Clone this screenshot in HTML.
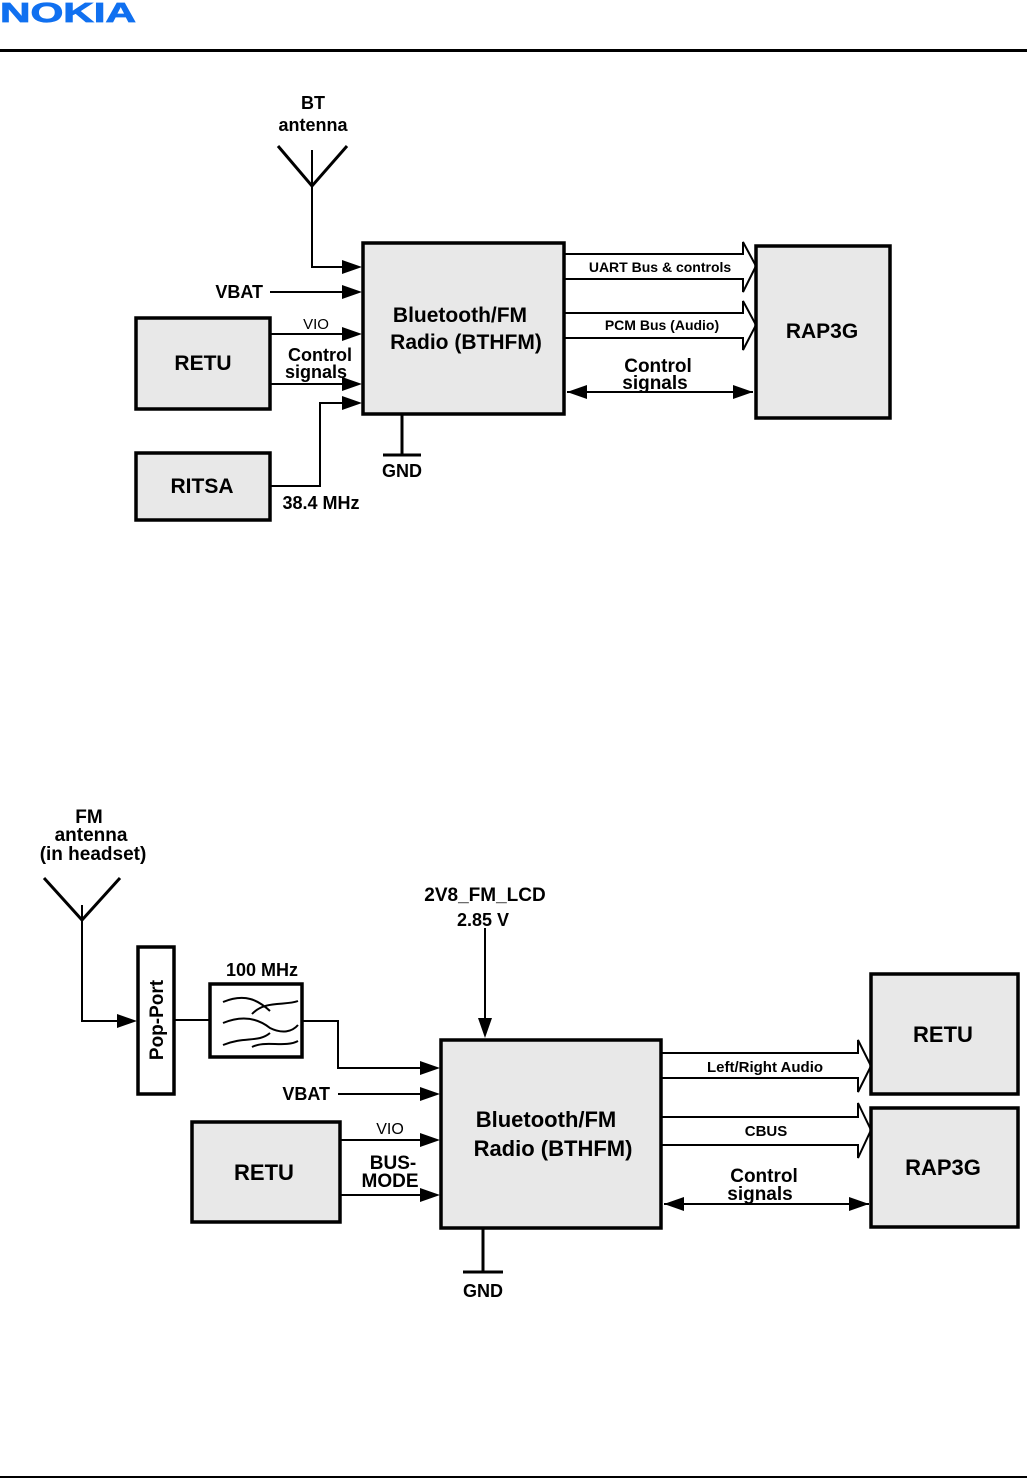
<!DOCTYPE html>
<html><head><meta charset="utf-8"><style>
html,body{margin:0;padding:0;background:#fff;}
svg{display:block}
text{font-family:"Liberation Sans",Arial,sans-serif;font-weight:bold;fill:#000;}
</style></head><body>
<svg width="1027" height="1479" viewBox="0 0 1027 1479" xmlns="http://www.w3.org/2000/svg">
<defs>
<marker id="ar" viewBox="0 0 20 14" refX="20" refY="7" markerWidth="20" markerHeight="14" orient="auto-start-reverse" markerUnits="userSpaceOnUse">
<path d="M0,0 L20,7 L0,14 z" fill="#000"/></marker>
</defs>
<text x="0" y="22" font-size="28" style="fill:#1070f0;stroke:#1070f0;stroke-width:0.8" textLength="136" lengthAdjust="spacingAndGlyphs">NOKIA</text>
<rect x="0" y="49" width="1027" height="3" fill="#000"/>
<rect x="0" y="1476" width="1027" height="2" fill="#000"/>

<g stroke="#000" stroke-width="2" fill="none">
<polyline points="278,146 312,186 347,146" stroke-width="3"/>
<polyline points="312,150 312,267 342,267"/>
<line x1="270" y1="292" x2="342" y2="292"/>
<line x1="270" y1="334" x2="342" y2="334"/>
<line x1="270" y1="384" x2="342" y2="384"/>
<polyline points="270,486 320,486 320,403 342,403"/>
<line x1="402" y1="414" x2="402" y2="454" stroke-width="3"/>
<line x1="383" y1="455" x2="421" y2="455" stroke-width="3"/>
<polyline points="564,254 743,254 743,242 756,266 743,292 743,279 564,279"/>
<polyline points="564,313 743,313 743,301 756,325 743,350 743,338 564,338"/>
<line x1="567" y1="392" x2="753" y2="392" marker-start="url(#ar)" marker-end="url(#ar)"/>

<polyline points="44,878 82,920 120,878" stroke-width="3"/>
<polyline points="82,905 82,1021 118,1021"/>
<line x1="174" y1="1020" x2="210" y2="1020"/>
<polyline points="302,1021 338,1021 338,1068 420,1068"/>
<line x1="338" y1="1094" x2="420" y2="1094"/>
<line x1="340" y1="1140" x2="420" y2="1140"/>
<line x1="340" y1="1195" x2="420" y2="1195"/>
<line x1="485" y1="928" x2="485" y2="1018"/>
<line x1="483" y1="1228" x2="483" y2="1272" stroke-width="3"/>
<line x1="463" y1="1272" x2="503" y2="1272" stroke-width="3"/>
<polyline points="661,1053 858,1053 858,1040 871,1066 858,1092 858,1078 661,1078"/>
<polyline points="661,1117 858,1117 858,1103 871,1130 858,1158 858,1145 661,1145"/>
<line x1="664" y1="1204" x2="869" y2="1204" marker-start="url(#ar)" marker-end="url(#ar)"/>
<path d="M223,1002 C245,993 258,1000 270,1011 M252,1014 C265,1000 285,1006 298,1001" />
<path d="M223,1023 C245,1014 260,1020 270,1028 C282,1034 292,1032 298,1025" />
<path d="M223,1045 C245,1036 258,1043 270,1033 M252,1047 C265,1040 285,1048 298,1041" />
</g>
<g fill="#000">
<path d="M342,260 L362,267 L342,274z"/>
<path d="M342,285 L362,292 L342,299z"/>
<path d="M342,327 L362,334 L342,341z"/>
<path d="M342,377 L362,384 L342,391z"/>
<path d="M342,396 L362,403 L342,410z"/>
<path d="M117,1014 L137,1021 L117,1028z"/>
<path d="M420,1061 L440,1068 L420,1075z"/>
<path d="M420,1087 L440,1094 L420,1101z"/>
<path d="M420,1133 L440,1140 L420,1147z"/>
<path d="M420,1188 L440,1195 L420,1202z"/>
<path d="M478,1018 L485,1038 L492,1018z"/>
</g>
<g stroke="#000" stroke-width="3.5">
<rect x="363" y="243" width="201" height="171" fill="#e8e8e8"/>
<rect x="136" y="318" width="134" height="91" fill="#e8e8e8"/>
<rect x="136" y="453" width="134" height="67" fill="#e8e8e8"/>
<rect x="756" y="246" width="134" height="172" fill="#e8e8e8"/>
<rect x="441" y="1040" width="220" height="188" fill="#e8e8e8"/>
<rect x="192" y="1122" width="148" height="100" fill="#e8e8e8"/>
<rect x="871" y="974" width="147" height="120" fill="#e8e8e8"/>
<rect x="871" y="1108" width="147" height="119" fill="#e8e8e8"/>
<rect x="138" y="947" width="36" height="147" fill="#fff"/>
<rect x="210" y="984" width="92" height="73" fill="none"/>
</g>
<g text-anchor="middle">
<text x="313" y="109" font-size="18">BT</text>
<text x="313" y="131" font-size="18">antenna</text>
<text x="460" y="322" font-size="21">Bluetooth/FM</text>
<text x="466" y="349" font-size="21">Radio (BTHFM)</text>
<text x="203" y="370" font-size="21">RETU</text>
<text x="202" y="493" font-size="21">RITSA</text>
<text x="822" y="338" font-size="21">RAP3G</text>
<text x="316" y="329" font-size="15" style="font-weight:normal">VIO</text>
<text x="320" y="361" font-size="18">Control</text>
<text x="316" y="378" font-size="18">signals</text>
<text x="321" y="509" font-size="18">38.4 MHz</text>
<text x="402" y="477" font-size="18">GND</text>
<text x="660" y="272" font-size="14">UART Bus &amp; controls</text>
<text x="662" y="330" font-size="14">PCM Bus (Audio)</text>
<text x="658" y="372" font-size="19">Control</text>
<text x="655" y="389" font-size="19">signals</text>
</g>
<text x="263" y="298" font-size="18" text-anchor="end">VBAT</text>
<g text-anchor="middle">
<text x="89" y="823" font-size="19">FM</text>
<text x="91" y="841" font-size="19">antenna</text>
<text x="93" y="860" font-size="19">(in headset)</text>
<text x="262" y="976" font-size="18">100 MHz</text>
<text x="485" y="901" font-size="19">2V8_FM_LCD</text>
<text x="483" y="926" font-size="18">2.85 V</text>
<text x="546" y="1127" font-size="22">Bluetooth/FM</text>
<text x="553" y="1156" font-size="22">Radio (BTHFM)</text>
<text x="264" y="1180" font-size="22">RETU</text>
<text x="943" y="1042" font-size="22">RETU</text>
<text x="943" y="1175" font-size="22">RAP3G</text>
<text x="390" y="1134" font-size="16" style="font-weight:normal">VIO</text>
<text x="393" y="1169" font-size="19">BUS-</text>
<text x="390" y="1187" font-size="19">MODE</text>
<text x="483" y="1297" font-size="18">GND</text>
<text x="765" y="1072" font-size="15">Left/Right Audio</text>
<text x="766" y="1136" font-size="15">CBUS</text>
<text x="764" y="1182" font-size="19">Control</text>
<text x="760" y="1200" font-size="19">signals</text>
<text x="0" y="0" font-size="19" transform="translate(163,1020) rotate(-90)">Pop-Port</text>
</g>
<text x="330" y="1100" font-size="18" text-anchor="end">VBAT</text>
</svg>
</body></html>
